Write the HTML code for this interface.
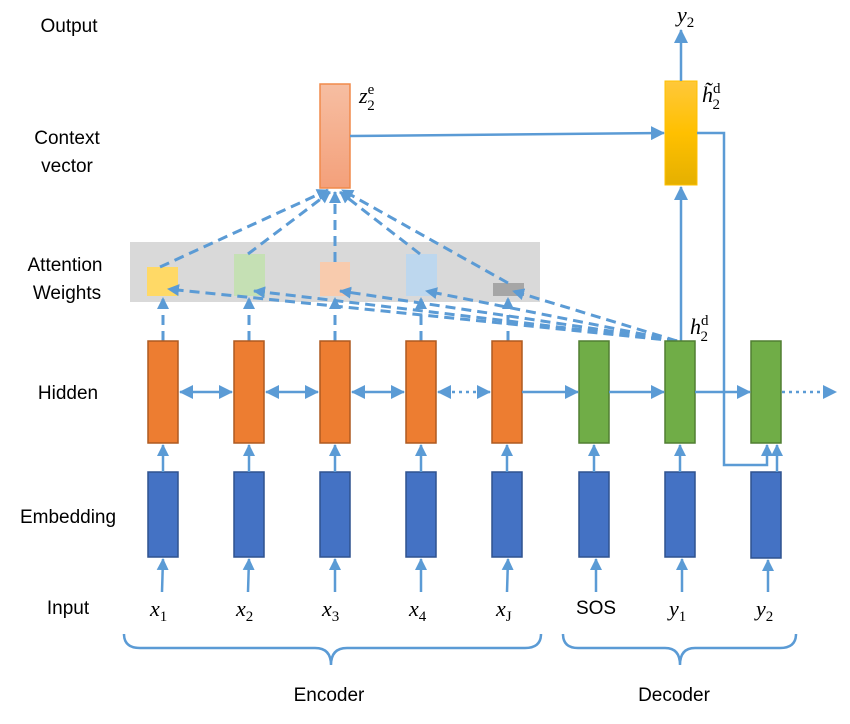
<!DOCTYPE html>
<html><head><meta charset="utf-8"><style>
html,body{margin:0;padding:0;background:#fff;}
svg{display:block;}
.lbl{font-family:"Liberation Sans",sans-serif;font-size:19px;fill:#000;text-anchor:middle;}
.m{font-family:"Liberation Serif",serif;font-style:italic;font-size:22px;fill:#000;}
.s{font-size:15px;font-style:normal;}
</style></head><body>
<svg width="850" height="724" viewBox="0 0 850 724" xmlns="http://www.w3.org/2000/svg">
<defs>
<marker id="a" markerWidth="12" markerHeight="12" refX="11" refY="6" orient="auto-start-reverse" markerUnits="userSpaceOnUse"><path d="M0,0 L12,6 L0,12 z" fill="#5b9bd5"/></marker>
<marker id="b" markerWidth="14" markerHeight="14" refX="13" refY="7" orient="auto-start-reverse" markerUnits="userSpaceOnUse"><path d="M0,0 L14,7 L0,14 z" fill="#5b9bd5"/></marker>
<linearGradient id="gz" x1="0" y1="0" x2="0" y2="1"><stop offset="0" stop-color="#f6bea2"/><stop offset="1" stop-color="#f4a07a"/></linearGradient>
<linearGradient id="gy" x1="0" y1="0" x2="0" y2="1"><stop offset="0" stop-color="#ffc83a"/><stop offset="0.5" stop-color="#ffc000"/><stop offset="1" stop-color="#e5b000"/></linearGradient>
</defs>

<text class="lbl" x="69" y="32">Output</text>
<text class="lbl" x="67" y="144">Context</text>
<text class="lbl" x="67" y="172">vector</text>
<text class="lbl" x="65" y="271">Attention</text>
<text class="lbl" x="67" y="299">Weights</text>
<text class="lbl" x="68" y="399">Hidden</text>
<text class="lbl" x="68" y="523">Embedding</text>
<text class="lbl" x="68" y="614">Input</text>

<rect x="130" y="242" width="410" height="60" fill="#d9d9d9"/>
<rect x="147" y="267" width="31" height="29" fill="#ffd966"/>
<rect x="234" y="254" width="31" height="42" fill="#c5e0b4"/>
<rect x="320" y="262" width="30" height="34" fill="#f8cbad"/>
<rect x="406" y="254" width="31" height="42" fill="#bdd7ee"/>
<rect x="493" y="283" width="31" height="13" fill="#a6a6a6"/>

<g stroke="#5b9bd5" stroke-width="3" stroke-dasharray="10,6" fill="none">
<line x1="160" y1="267" x2="328" y2="190" marker-end="url(#a)"/>
<line x1="248" y1="254" x2="330" y2="192" marker-end="url(#a)"/>
<line x1="335" y1="262" x2="335" y2="192" marker-end="url(#a)"/>
<line x1="420" y1="254" x2="340" y2="192" marker-end="url(#a)"/>
<line x1="508" y1="283" x2="342" y2="190" marker-end="url(#a)"/>
<line x1="163" y1="341" x2="163" y2="298" marker-end="url(#a)"/>
<line x1="249" y1="341" x2="249" y2="298" marker-end="url(#a)"/>
<line x1="335" y1="341" x2="335" y2="298" marker-end="url(#a)"/>
<line x1="421" y1="341" x2="421" y2="298" marker-end="url(#a)"/>
<line x1="508" y1="341" x2="508" y2="298" marker-end="url(#a)"/>
<line x1="677" y1="341" x2="168" y2="289" marker-end="url(#a)"/>
<line x1="677" y1="341" x2="254" y2="291" marker-end="url(#a)"/>
<line x1="677" y1="341" x2="340" y2="291" marker-end="url(#a)"/>
<line x1="677" y1="341" x2="426" y2="291" marker-end="url(#a)"/>
<line x1="677" y1="341" x2="513" y2="291" marker-end="url(#a)"/>
</g>

<rect x="320" y="84" width="30" height="104" fill="url(#gz)" stroke="#f08a4b" stroke-width="1.5"/>
<text class="m" x="359" y="103">z<tspan class="s" dy="-9">e</tspan><tspan class="s" dx="-7" dy="16">2</tspan></text>
<line x1="350" y1="136" x2="664" y2="133" stroke="#5b9bd5" stroke-width="2.5" marker-end="url(#b)"/>

<rect x="665" y="81" width="32" height="104" fill="url(#gy)" stroke="#ffc000" stroke-width="1"/>
<text class="m" x="702" y="102">h̃<tspan class="s" dy="-9">d</tspan><tspan class="s" dx="-8" dy="16">2</tspan></text>
<line x1="681" y1="81" x2="681" y2="30" stroke="#5b9bd5" stroke-width="2.5" marker-end="url(#b)"/>
<text class="m" x="677" y="22">y<tspan class="s" dy="5">2</tspan></text>
<line x1="681" y1="341" x2="681" y2="187" stroke="#5b9bd5" stroke-width="2.5" marker-end="url(#b)"/>
<text class="m" x="690" y="334">h<tspan class="s" dy="-9">d</tspan><tspan class="s" dx="-8" dy="16">2</tspan></text>
<polyline points="697,133 724,133 724,465 767,465 767,445" fill="none" stroke="#5b9bd5" stroke-width="2.5" marker-end="url(#a)"/>

<g fill="#ed7d31" stroke="#ae5a21" stroke-width="1.5">
<rect x="148" y="341" width="30" height="102"/>
<rect x="234" y="341" width="30" height="102"/>
<rect x="320" y="341" width="30" height="102"/>
<rect x="406" y="341" width="30" height="102"/>
<rect x="492" y="341" width="30" height="102"/>
</g>
<g fill="#70ad47" stroke="#507e32" stroke-width="1.5">
<rect x="579" y="341" width="30" height="102"/>
<rect x="665" y="341" width="30" height="102"/>
<rect x="751" y="341" width="30" height="102"/>
</g>
<g stroke="#5b9bd5" stroke-width="2.5" fill="none">
<line x1="180" y1="392" x2="232" y2="392" marker-start="url(#b)" marker-end="url(#b)"/>
<line x1="266" y1="392" x2="318" y2="392" marker-start="url(#b)" marker-end="url(#b)"/>
<line x1="352" y1="392" x2="404" y2="392" marker-start="url(#b)" marker-end="url(#b)"/>
<line x1="438" y1="392" x2="490" y2="392" marker-start="url(#b)" marker-end="url(#b)" stroke-dasharray="3,4"/>
<line x1="522" y1="392" x2="578" y2="392" marker-end="url(#b)"/>
<line x1="609" y1="392" x2="664" y2="392" marker-end="url(#b)"/>
<line x1="695" y1="392" x2="750" y2="392" marker-end="url(#b)"/>
<line x1="782" y1="392" x2="836" y2="392" marker-end="url(#b)" stroke-dasharray="3,4"/>
</g>

<g fill="#4472c4" stroke="#2f528f" stroke-width="1.5">
<rect x="148" y="472" width="30" height="85"/>
<rect x="234" y="472" width="30" height="85"/>
<rect x="320" y="472" width="30" height="85"/>
<rect x="406" y="472" width="30" height="85"/>
<rect x="492" y="472" width="30" height="85"/>
<rect x="579" y="472" width="30" height="85"/>
<rect x="665" y="472" width="30" height="85"/>
<rect x="751" y="472" width="30" height="86"/>
</g>
<g stroke="#5b9bd5" stroke-width="2.5">
<line x1="163" y1="472" x2="163" y2="445" marker-end="url(#a)"/>
<line x1="249" y1="472" x2="249" y2="445" marker-end="url(#a)"/>
<line x1="335" y1="472" x2="335" y2="445" marker-end="url(#a)"/>
<line x1="421" y1="472" x2="421" y2="445" marker-end="url(#a)"/>
<line x1="507" y1="472" x2="507" y2="445" marker-end="url(#a)"/>
<line x1="594" y1="472" x2="594" y2="445" marker-end="url(#a)"/>
<line x1="680" y1="472" x2="680" y2="445" marker-end="url(#a)"/>
<line x1="777" y1="472" x2="777" y2="445" marker-end="url(#a)"/>
<line x1="162" y1="592" x2="163" y2="559" marker-end="url(#a)"/>
<line x1="248" y1="592" x2="249" y2="559" marker-end="url(#a)"/>
<line x1="335" y1="592" x2="335" y2="559" marker-end="url(#a)"/>
<line x1="421" y1="592" x2="421" y2="559" marker-end="url(#a)"/>
<line x1="507" y1="592" x2="508" y2="559" marker-end="url(#a)"/>
<line x1="596" y1="592" x2="596" y2="559" marker-end="url(#a)"/>
<line x1="682" y1="592" x2="682" y2="559" marker-end="url(#a)"/>
<line x1="768" y1="592" x2="768" y2="560" marker-end="url(#a)"/>
</g>

<text class="m" x="150" y="616">x<tspan class="s" dy="5">1</tspan></text>
<text class="m" x="236" y="616">x<tspan class="s" dy="5">2</tspan></text>
<text class="m" x="322" y="616">x<tspan class="s" dy="5">3</tspan></text>
<text class="m" x="409" y="616">x<tspan class="s" dy="5">4</tspan></text>
<text class="m" x="496" y="616">x<tspan class="s" dy="5">J</tspan></text>
<text class="lbl" x="596" y="614">SOS</text>
<text class="m" x="669" y="616">y<tspan class="s" dy="5">1</tspan></text>
<text class="m" x="756" y="616">y<tspan class="s" dy="5">2</tspan></text>

<g stroke="#5b9bd5" stroke-width="2.5" fill="none">
<path d="M124,634 Q124,648 140,648 L315,648 Q331,648 331,665 Q331,648 347,648 L525,648 Q541,648 541,634"/>
<path d="M563,634 Q563,648 578,648 L665,648 Q680,648 680,665 Q680,648 695,648 L780,648 Q796,648 796,634"/>
</g>
<text class="lbl" x="329" y="701">Encoder</text>
<text class="lbl" x="674" y="701">Decoder</text>
</svg>
</body></html>
